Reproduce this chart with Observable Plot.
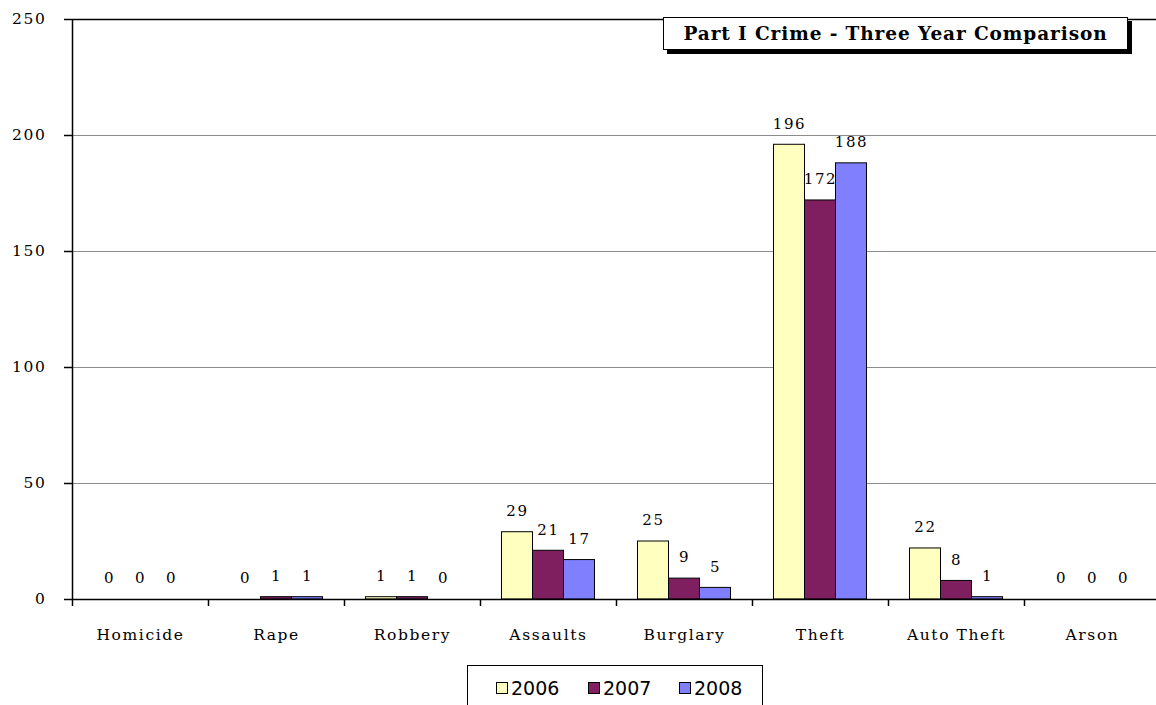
<!DOCTYPE html>
<html>
<head>
<meta charset="utf-8">
<script src="https://cdn.jsdelivr.net/npm/d3@7"></script>
<script src="https://cdn.jsdelivr.net/npm/@observablehq/plot@0.6"></script>
<style>
  html, body { margin: 0; padding: 0; background: #fff; overflow: hidden; }
  #wrap { position: relative; width: 1156px; height: 705px; }
  #chart svg text { letter-spacing: 1.6px; }
  #title {
    position: absolute; left: 663px; top: 17px; width: 463px; height: 31px;
    background: #fff; border: 1px solid #000; box-shadow: 4px 4px 0 #000;
    font-family: "DejaVu Serif", serif; font-weight: bold; font-size: 18.5px;
    letter-spacing: 0.9px;
    line-height: 31px; text-align: center; white-space: nowrap; color: #000;
  }
  #legend {
    position: absolute; left: 467px; top: 665px; width: 294px; height: 50px;
    border: 1px solid #000; background: #fff;
    font-family: "DejaVu Sans", sans-serif; font-size: 19px; color: #000;
  }
  #legend .item { position: absolute; top: 11px; display: flex; align-items: center; }
  #legend .sw { width: 10px; height: 10px; border: 1px solid #000; margin-right: 3px; }
</style>
</head>
<body>
<div id="wrap">
  <div id="chart"></div>
  <div id="title">Part I Crime - Three Year Comparison</div>
  <div id="legend"></div>
</div>
<script>
const categories = ["Homicide", "Rape", "Robbery", "Assaults", "Burglary", "Theft", "Auto Theft", "Arson"];
const years = ["2006", "2007", "2008"];
const values2006 = [0, 0, 1, 29, 25, 196, 22, 0];
const values2007 = [0, 1, 1, 21, 9, 172, 8, 0];
const values2008 = [0, 1, 0, 17, 5, 188, 1, 0];
const yearColors = ["#FFFFC0", "#7F1F5F", "#8080FF"];
const yTicks = [0, 50, 100, 150, 200, 250];
const gridTicks = [50, 100, 150, 200];

const series = [values2006, values2007, values2008];

// layout constants
const W = 1156, H = 660;
const left = 72, right = 1160;
const band = (right - left) / categories.length;
const barW = 31;
const inset = (band - barW) / 2;

const marks = [
  Plot.gridY(gridTicks, {stroke: "#8c8c8c", strokeOpacity: 1, strokeWidth: 1}),
  Plot.ruleY([250], {stroke: "#000", strokeWidth: 1.5}),
];

years.forEach((yr, i) => {
  const rows = categories.map((c, j) => ({category: c, year: yr, value: series[i][j]}));
  marks.push(Plot.barY(rows, {
    x: "category", y: "value", dx: (i - 1) * barW,
    insetLeft: inset, insetRight: inset,
    fill: yearColors[i], stroke: "#000", strokeWidth: 1
  }));
  marks.push(Plot.text(rows, {
    x: "category", y: "value", dx: (i - 1) * barW, dy: -21,
    text: d => String(d.value), fill: "#000"
  }));
});

marks.push(
  Plot.ruleY([0], {stroke: "#000", strokeWidth: 1.5}),
  Plot.ruleX(categories.slice(0, 1), {x: d => d, dx: -band / 2, y1: 250, y2: 0, stroke: "#000", strokeWidth: 1.5, insetBottom: -7}),
  Plot.ruleX(categories.slice(1), {x: d => d, dx: -band / 2, y1: 0, y2: 0, stroke: "#000", strokeWidth: 1.5, insetBottom: -7}),
  Plot.axisY({ticks: yTicks, tickSize: 8, tickPadding: 18, tickFormat: d => String(d), stroke: "#000", strokeWidth: 1.5, fontSize: 15.5}),
  Plot.axisX({tickSize: 0, tickPadding: 29, fontSize: 15.5})
);

const chart = Plot.plot({
  width: W,
  height: H,
  marginTop: 19,
  marginBottom: 61,
  marginLeft: left,
  marginRight: 0,
  style: {fontFamily: "DejaVu Serif, serif", fontSize: "15px", color: "#000", background: "#fff"},
  x: {type: "band", domain: categories, range: [left, right], padding: 0, label: null},
  y: {domain: [0, 250], label: null},
  marks
});
document.getElementById("chart").appendChild(chart);

// legend
const legend = document.getElementById("legend");
const legendLefts = [28, 120, 211];
years.forEach((yr, i) => {
  const item = document.createElement("div");
  item.className = "item";
  item.style.left = legendLefts[i] + "px";
  const sw = document.createElement("div");
  sw.className = "sw";
  sw.style.background = yearColors[i];
  const t = document.createElement("span");
  t.textContent = yr;
  item.appendChild(sw);
  item.appendChild(t);
  legend.appendChild(item);
});
</script>
</body>
</html>
